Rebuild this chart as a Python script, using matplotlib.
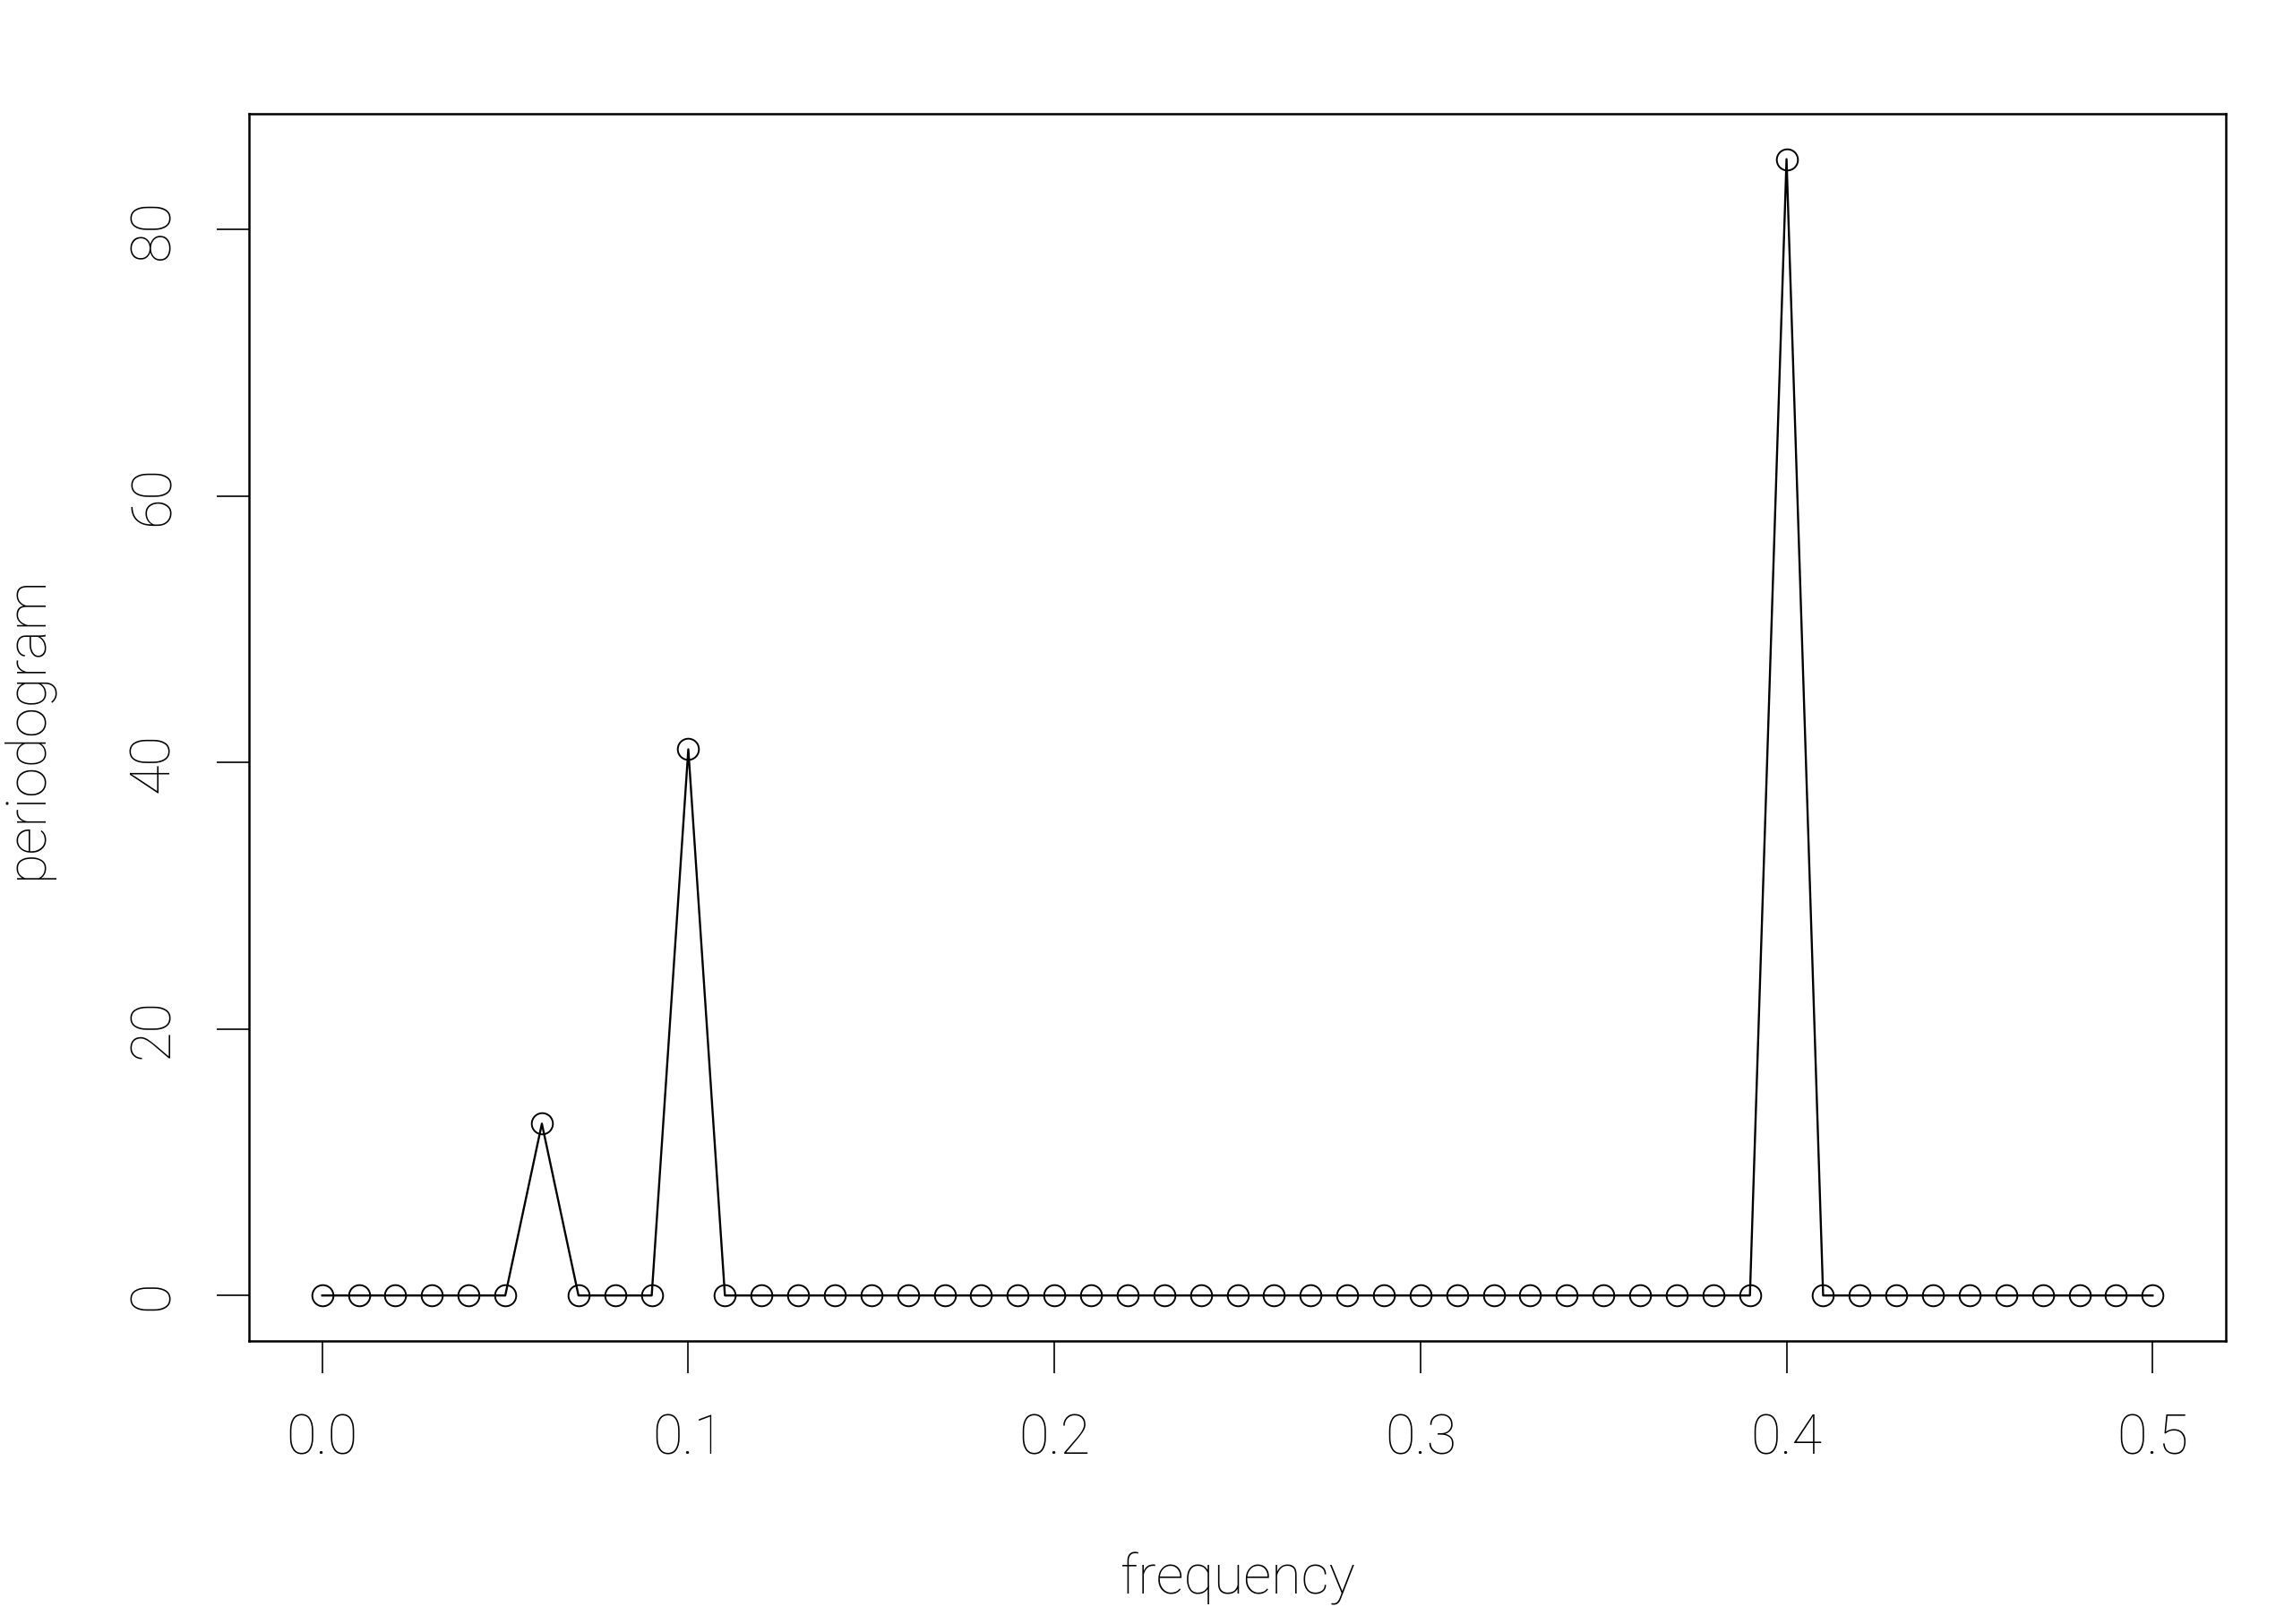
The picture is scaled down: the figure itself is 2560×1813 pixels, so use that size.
import matplotlib
matplotlib.use("Agg")
import matplotlib.pyplot as plt
import numpy as np

# periodogram ordinates at Fourier frequencies 0, 0.01, ..., 0.5
freq = np.arange(51) / 100.0
pgram = np.zeros(51)
pgram[6] = 12.9
pgram[10] = 41.0
pgram[40] = 85.3

x_ticks = [0.0, 0.1, 0.2, 0.3, 0.4, 0.5]
x_labels = ["0.0", "0.1", "0.2", "0.3", "0.4", "0.5"]
y_ticks = [0, 20, 40, 60, 80]

plt.rcParams['font.family'] = ['Roboto', 'DejaVu Sans']
plt.rcParams['font.weight'] = 'light'
plt.rcParams['axes.labelweight'] = 'light'

fig = plt.figure(figsize=(25.6, 18.13), dpi=100)
ax = fig.add_axes([0.1086, 0.1743, 0.9707 - 0.1086, 0.930 - 0.1743])

ax.plot(freq, pgram, color='black', lw=1.7, marker='o', ms=17,
        mfc='none', mec='black', mew=1.4)

ax.set_xlim(-0.02, 0.52)
ax.set_ylim(-0.04 * 85.3, 85.3 * 1.04)

ax.set_xticks(x_ticks)
ax.set_xticklabels(x_labels)
ax.set_yticks(y_ticks)
ax.set_yticklabels([str(v) for v in y_ticks], rotation=90, va='center')

ax.tick_params(axis='both', direction='out', length=26, width=1.2,
               labelsize=44, colors='black')
ax.tick_params(axis='x', pad=32)
ax.tick_params(axis='y', pad=30)
for s in ax.spines.values():
    s.set_linewidth(1.8)

ax.set_xlabel('frequency', fontsize=44, labelpad=70)
ax.set_ylabel('periodogram', fontsize=44, labelpad=60)

fig.savefig('out.png', dpi=100, facecolor='white')
